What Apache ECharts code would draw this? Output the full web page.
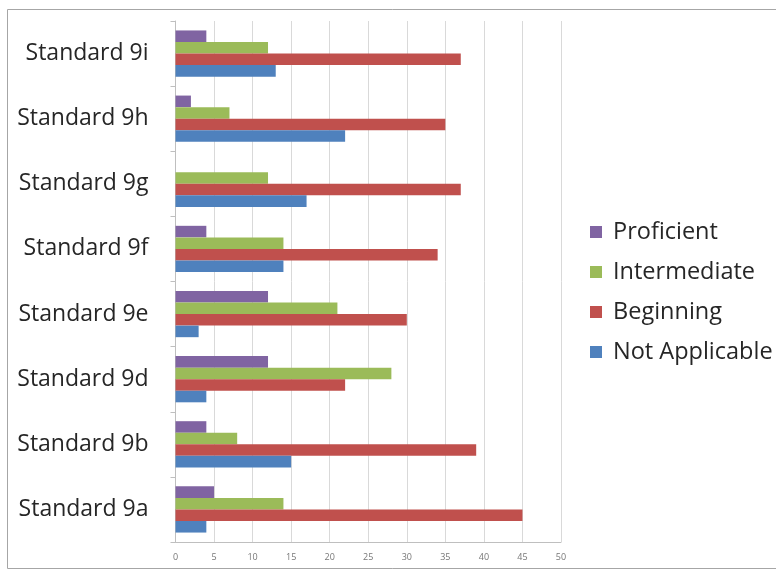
<!DOCTYPE html>
<html>
<head>
<meta charset="utf-8">
<script src="https://cdn.jsdelivr.net/npm/echarts@6/dist/echarts.min.js"></script>
<style>
html,body{margin:0;padding:0;background:#fff;}
#chart{width:776px;height:570px;}
</style>
</head>
<body>
<div id="chart"></div>
<script>
var categories = ['Standard 9a','Standard 9b','Standard 9d','Standard 9e','Standard 9f','Standard 9g','Standard 9h','Standard 9i'];
var notApplicable = [4, 15, 4, 3, 14, 17, 22, 13];
var beginning     = [45, 39, 22, 30, 34, 37, 35, 37];
var intermediate  = [14, 8, 28, 21, 14, 12, 7, 12];
var proficient    = [5, 4, 12, 12, 4, 0, 2, 4];
var xTicks = [0, 5, 10, 15, 20, 25, 30, 35, 40, 45, 50];

var chart = echarts.init(document.getElementById('chart'));
function bar(name, data, color) {
  return { name: name, type: 'bar', data: data, barGap: '0%', barCategoryGap: '29%',
           itemStyle: { color: color }, animation: false };
}
chart.setOption({
  animation: false,
  backgroundColor: '#fff',
  graphic: [{
    type: 'rect', shape: { x: 7.5, y: 9.5, width: 800, height: 559 },
    style: { fill: 'none', stroke: '#a6a6a6', lineWidth: 1 }, silent: true, z: -1
  }],
  grid: { left: 175.5, right: 215, top: 21, bottom: 28 },
  legend: {
    data: ['Proficient', 'Intermediate', 'Beginning', 'Not Applicable'],
    orient: 'vertical', left: 585, top: 215,
    itemWidth: 12, itemHeight: 12, itemGap: 16,
    icon: 'rect',
    textStyle: { fontFamily: 'Open Sans', fontSize: 23.5, color: '#262626', lineHeight: 24, padding: [0,0,0,6] }
  },
  xAxis: {
    type: 'value', min: xTicks[0], max: xTicks[xTicks.length - 1], interval: 5,
    axisLine: { show: true, lineStyle: { color: '#bfbfbf' } },
    axisTick: { show: false },
    splitLine: { show: true, lineStyle: { color: '#d9d9d9' } },
    axisLabel: { fontFamily: 'Open Sans', fontSize: 9, color: '#777', margin: 11 }
  },
  yAxis: {
    type: 'category', data: categories,
    axisLine: { show: true, lineStyle: { color: '#bfbfbf' } },
    axisTick: { show: true, length: 5, lineStyle: { color: '#bfbfbf' } },
    axisLabel: { fontFamily: 'Open Sans', fontSize: 23, color: '#262626', margin: 27 }
  },
  series: [
    bar('Proficient', proficient, '#8064A2'),
    bar('Intermediate', intermediate, '#9BBB59'),
    bar('Beginning', beginning, '#C0504D'),
    bar('Not Applicable', notApplicable, '#4F81BD')
  ]
});
</script>
</body>
</html>
